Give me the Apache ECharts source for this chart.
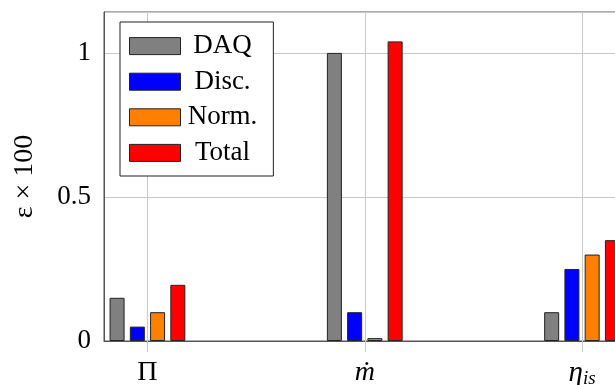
<!DOCTYPE html>
<html>
<head>
<meta charset="utf-8">
<script src="https://cdn.jsdelivr.net/npm/echarts@6/dist/echarts.min.js"></script>
<style>html,body{margin:0;padding:0;background:#fff}#c{width:615px;height:385px}</style>
</head>
<body>
<div id="c"></div>
<script>
const categories = ['Π', 'ṁ', 'η_is'];
const seriesNames = ['DAQ', 'Disc.', 'Norm.', 'Total'];
const daq   = [0.15, 1.00, 0.10];
const disc  = [0.05, 0.10, 0.25];
const norm  = [0.10, 0.01, 0.30];
const total = [0.195, 1.04, 0.35];
const yTicks = [0, 0.5, 1];

const colors = ['#808080', '#0000ff', '#ff8000', '#ff0000'];
const values = [daq, disc, norm, total];
const FONT = '"Liberation Serif", "DejaVu Serif", serif';
const Y_MAX = 1.142;

const chart = echarts.init(document.getElementById('c'));

// plot frame: x from 104 to 625.5 (cut off at the right), categories 217.3 px apart
const unit = 521.5 / 2.4;
const catLeft = 104 - 0.3 * unit;
const catRight = 615 - (catLeft + 3 * unit);

const series = seriesNames.map((name, i) => ({
  name: name,
  type: 'bar',
  xAxisIndex: 1, yAxisIndex: 1,
  data: values[i],
  barWidth: 15,
  barGap: '35%',
  itemStyle: { color: colors[i], borderColor: '#222', borderWidth: 1 },
  emphasis: { disabled: true },
  z: 3
}));
series.push({
  name: 'grid',
  type: 'line',
  xAxisIndex: 1, yAxisIndex: 1,
  data: [],
  z: 1,
  silent: true,
  markLine: {
    silent: true,
    symbol: 'none',
    label: { show: false },
    lineStyle: { color: '#c8c8c8', type: 'solid', width: 1 },
    data: categories.map(c => ({ xAxis: c }))
  }
});

const labelFmt = c => {
  if (c === 'η_is') return '{e|η}{s|is}';
  if (c === 'ṁ') return '{m|ṁ}';
  return '{n|' + c + '}';
};

chart.setOption({
  animation: false,
  backgroundColor: '#fff',
  grid: [
    { left: 104, right: -10.5, top: 12, bottom: 44, outerBoundsMode: 'none', containLabel: false,
      show: true, borderColor: '#555', borderWidth: 1, backgroundColor: 'transparent' },
    { left: catLeft, right: catRight, top: 12, bottom: 44, outerBoundsMode: 'none', containLabel: false }
  ],
  legend: {
    orient: 'vertical',
    left: 120, top: 22,
    padding: [10.6, 16, 9.6, 9],
    itemWidth: 51, itemHeight: 17, itemGap: 8.6,
    backgroundColor: '#fff',
    borderColor: '#222', borderWidth: 1,
    icon: 'rect',
    itemStyle: { borderColor: '#222', borderWidth: 1 },
    selectedMode: false,
    formatter: n => '{t|' + n + '}',
    textStyle: {
      rich: { t: { width: 74, align: 'center', fontSize: 27, fontFamily: FONT, color: '#000' } }
    },
    data: seriesNames,
    z: 10
  },
  xAxis: [
    { type: 'value', gridIndex: 0, min: 0, max: 1,
      axisLine: { show: true, onZero: false, lineStyle: { color: '#555' } },
      axisTick: { show: false }, splitLine: { show: false }, axisLabel: { show: false } },
    { type: 'category', gridIndex: 1, data: categories, boundaryGap: true,
      axisLine: { show: false },
      axisTick: { show: true, alignWithLabel: true, length: 11, lineStyle: { color: '#c8c8c8' } },
      splitLine: { show: false },
      axisLabel: {
        margin: 17,
        formatter: labelFmt,
        rich: {
          n: { fontSize: 28, lineHeight: 30, fontFamily: FONT, color: '#000' },
          m: { fontSize: 28, lineHeight: 30, fontFamily: FONT, fontStyle: 'italic', color: '#000' },
          e: { fontSize: 29, lineHeight: 30, fontFamily: FONT, fontStyle: 'italic', color: '#000' },
          s: { fontSize: 19, lineHeight: 22, fontFamily: FONT, fontStyle: 'italic', color: '#000', verticalAlign: 'bottom' }
        }
      } }
  ],
  yAxis: [
    { type: 'value', gridIndex: 0,
      min: 0, max: Y_MAX, interval: 0.5,
      name: 'ε × 100',
      nameLocation: 'middle',
      nameRotate: 90,
      nameGap: 65,
      nameTextStyle: { fontSize: 28, fontFamily: FONT, color: '#000' },
      axisLine: { show: true, onZero: false, lineStyle: { color: '#555' } },
      axisTick: { show: false },
      splitLine: { show: true, lineStyle: { color: '#c8c8c8' } },
      axisLabel: {
        margin: 13,
        fontSize: 27, fontFamily: FONT, color: '#000',
        showMaxLabel: false,
        formatter: v => (yTicks.some(t => Math.abs(t - v) < 1e-6) ? String(v) : '')
      } },
    { type: 'value', gridIndex: 1, min: 0, max: Y_MAX, interval: 0.5, show: false,
      splitLine: { show: false } }
  ],
  series: series
});
</script>
</body>
</html>
